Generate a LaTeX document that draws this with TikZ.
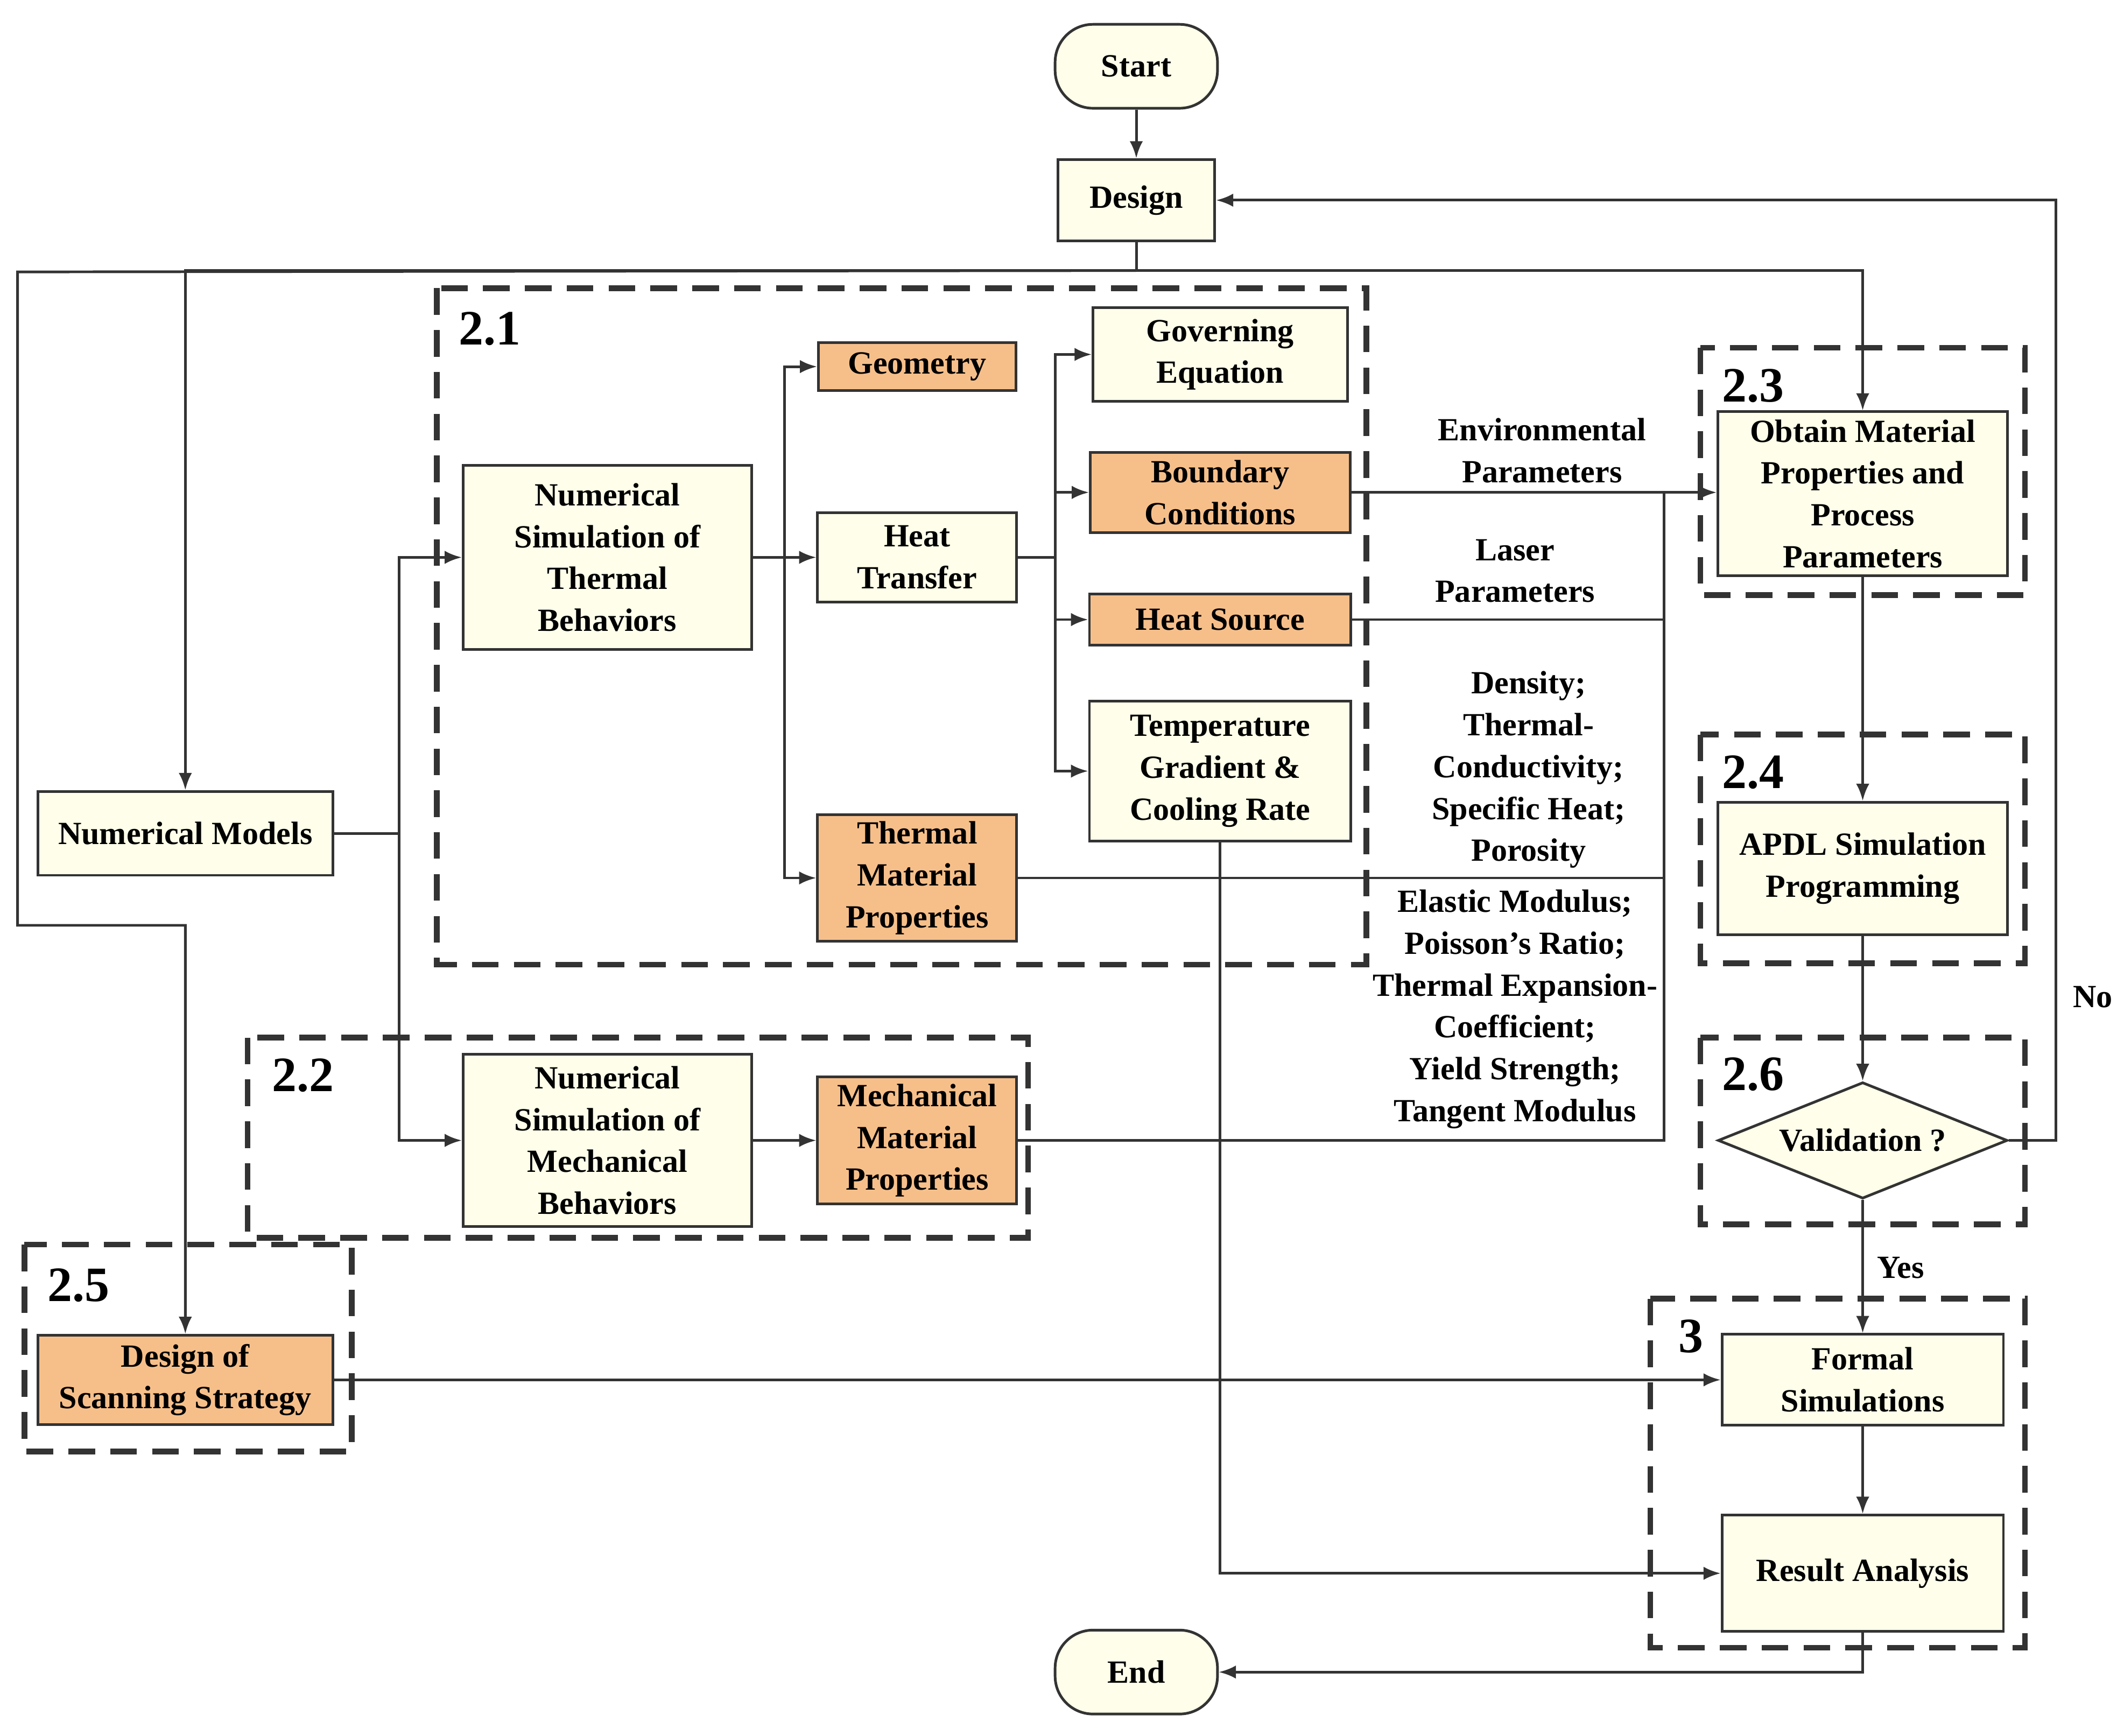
\documentclass[tikz,border=0pt]{standalone}
\usepackage{fontspec}
\setmainfont{Liberation Serif}
\usetikzlibrary{shapes.geometric,arrows.meta}
\definecolor{boxfill}{HTML}{FEFEEA}
\definecolor{orangefill}{HTML}{F6BF8A}
\definecolor{linegray}{HTML}{333333}
\tikzset{
  box/.style={draw=linegray, line width=1.4pt, fill=boxfill, align=center,
    font=\fontsize{17}{22}\selectfont\bfseries, inner sep=2pt},
  obox/.style={box, fill=orangefill},
  term/.style={box, rounded corners=0.7cm},
  group/.style={draw=linegray, line width=3pt, dash pattern=on 14pt off 8pt},
  grouplabel/.style={font=\fontsize{26}{30}\selectfont\bfseries, anchor=center},
  lbl/.style={align=center, font=\fontsize{17}{22}\selectfont\bfseries, inner sep=0pt},
  flow/.style={draw=linegray, line width=1.4pt, -{Latex[length=9pt,width=7pt]}},
  link/.style={draw=linegray, line width=1.4pt}
}
\begin{document}
\begin{tikzpicture}[x=0.025cm, y=-0.025cm]
  \useasboundingbox (0,0) rectangle (1565,1283);
  % Dashed groups
  \draw[group] (323,213) rectangle (1010,713);
  \draw[group] (183,767) rectangle (760,915);
  \draw[group] (1257,257) rectangle (1497,440);
  \draw[group] (1257,543) rectangle (1497,712);
  \draw[group] (1257,767) rectangle (1497,905);
  \draw[group] (18,920) rectangle (260,1073);
  \draw[group] (1220,960) rectangle (1497,1218);
  \node[grouplabel] (g21) at (362,243) {2.1};
  \node[grouplabel] (g22) at (224,795) {2.2};
  \node[grouplabel] (g23) at (1296,285) {2.3};
  \node[grouplabel] (g24) at (1296,571) {2.4};
  \node[grouplabel] (g26) at (1296,794) {2.6};
  \node[grouplabel] (g25) at (58,950) {2.5};
  \node[grouplabel] (g3) at (1250,988) {3};
  % Nodes
  \node[term, minimum width=3cm, minimum height=1.55cm] (start) at (840,49) {Start};
  \node[box, minimum width=2.9cm, minimum height=1.5cm] (design) at (840,148) {Design};
  \node[box, minimum width=5.45cm, minimum height=1.55cm] (models) at (137,616) {Numerical Models};
  \node[box, minimum width=5.33cm, minimum height=3.4cm] (therm) at (449,412) {Numerical\\Simulation of\\Thermal\\Behaviors};
  \node[obox, minimum width=3.65cm, minimum height=0.88cm] (geom) at (678,271) {Geometry};
  \node[box, minimum width=3.68cm, minimum height=1.65cm] (heat) at (678,412) {Heat\\Transfer};
  \node[obox, minimum width=3.68cm, minimum height=2.33cm] (tmp) at (678,649) {Thermal\\Material\\Properties};
  \node[box, minimum width=4.7cm, minimum height=1.73cm] (gov) at (902,262) {Governing\\Equation};
  \node[obox, minimum width=4.8cm, minimum height=1.48cm] (bound) at (902,364) {Boundary\\Conditions};
  \node[obox, minimum width=4.83cm, minimum height=0.95cm] (source) at (902,458) {Heat Source};
  \node[box, minimum width=4.83cm, minimum height=2.58cm] (grad) at (902,570) {Temperature\\Gradient \&\\Cooling Rate};
  \node[box, minimum width=5.33cm, minimum height=3.18cm] (mech) at (449,843) {Numerical\\Simulation of\\Mechanical\\Behaviors};
  \node[obox, minimum width=3.68cm, minimum height=2.35cm] (mmp) at (678,843) {Mechanical\\Material\\Properties};
  \node[obox, minimum width=5.45cm, minimum height=1.65cm] (scan) at (137,1020) {Design of\\Scanning Strategy};
  \node[box, minimum width=5.35cm, minimum height=3.03cm] (obtain) at (1377,365) {Obtain Material\\Properties and\\Process\\Parameters};
  \node[box, minimum width=5.35cm, minimum height=2.45cm] (apdl) at (1377,642) {APDL Simulation\\Programming};
  \node[box, diamond, aspect=2.5, inner sep=0pt, minimum width=5.35cm, minimum height=2.15cm] (valid) at (1377,843) {Validation ?};
  \node[box, minimum width=5.2cm, minimum height=1.68cm] (formal) at (1377,1020) {Formal\\Simulations};
  \node[box, minimum width=5.2cm, minimum height=2.15cm] (result) at (1377,1163) {Result Analysis};
  \node[term, minimum width=3cm, minimum height=1.55cm] (end) at (840,1236) {End};
  % Labels
  \node[lbl] (envp) at (1140,333) {Environmental\\Parameters};
  \node[lbl] (lasp) at (1120,422) {Laser\\Parameters};
  \node[lbl] (thp) at (1130,569) {Density;\\Thermal-\\Conductivity;\\Specific Heat;\\Porosity};
  \node[lbl] (mep) at (1120,746) {Elastic Modulus;\\Poisson's Ratio;\\Thermal Expansion-\\Coefficient;\\Yield Strength;\\Tangent Modulus};
  \node[lbl] (yes) at (1405,937) {Yes};
  \node[lbl] (no) at (1547,737) {No};
  % Coordinates
  \coordinate (split) at (840,200);
  \coordinate (join) at (1230,364);
  % Connectors
  \draw[flow] (start) -- (design);
  \draw[link] (design) -- (split);
  \draw[flow] (split) -| (obtain.north);
  \draw[flow] (split) -- (137,200) -- (models.north);
  \draw[flow] (split) -- (13,201) -- (13,684) -- (137,684) -- (scan.north);
  \draw[link] (models.east) -- (295,616);
  \draw[flow] (295,616) |- (therm.west);
  \draw[flow] (295,616) |- (mech.west);
  \draw[link] (therm.east) -- (580,412);
  \draw[flow] (580,412) |- (geom.west);
  \draw[flow] (580,412) -- (heat.west);
  \draw[flow] (580,412) |- (tmp.west);
  \draw[link] (heat.east) -- (780,412);
  \draw[flow] (780,412) |- (gov.west);
  \draw[flow] (780,412) |- (bound.west);
  \draw[flow] (780,412) |- (source.west);
  \draw[flow] (780,412) |- (grad.west);
  \draw[flow] (bound.east) -- (obtain.west |- bound.east);
  \draw[link] (source.east) -| (join);
  \draw[link] (tmp.east) -| (join);
  \draw[link] (mmp.east) -| (join);
  \draw[flow] (mech) -- (mmp);
  \draw[flow] (obtain) -- (apdl);
  \draw[flow] (apdl) -- (valid);
  \draw[flow] (valid) -- (formal);
  \draw[flow] (valid.east) -- (1520,843) |- (design.east);
  \draw[flow] (scan.east) -- (formal.west |- scan.east);
  \draw[flow] (formal) -- (result);
  \draw[flow] (grad.south) |- (result.west);
  \draw[flow] (result.south) |- (end.east);
\end{tikzpicture}
\end{document}
